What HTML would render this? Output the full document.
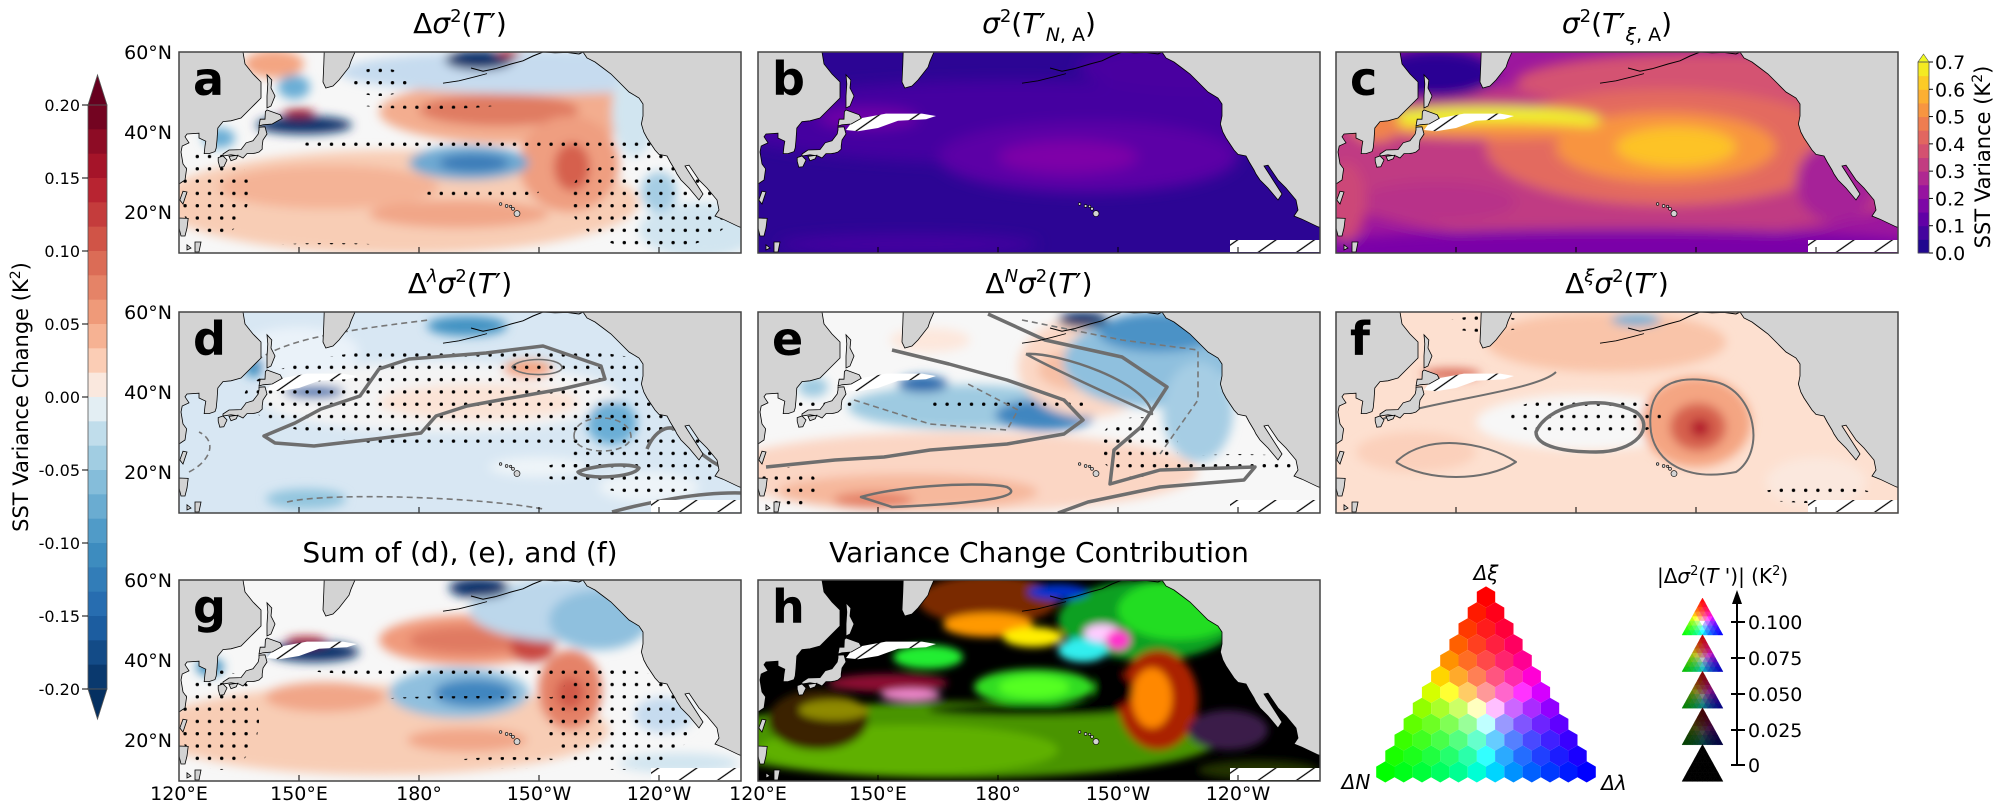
<!DOCTYPE html>
<html><head><meta charset="utf-8">
<style>
html,body{margin:0;padding:0;background:#fff;}
svg{display:block;font-family:"DejaVu Sans","Liberation Sans",sans-serif;}
</style></head>
<body>
<svg id="s" width="2000" height="806" viewBox="0 0 2000 806" xmlns="http://www.w3.org/2000/svg"></svg>
<script>
(function(){
var W=562,H=201;
var P={a:[179,52],b:[758,52],c:[1336,52],d:[179,312],e:[758,312],f:[1336,312],g:[179,580],h:[758,580]};
function pt(l,t){return ((l-120)*4).toFixed(1)+","+((60-t)*4).toFixed(1);}
function poly(a){return a.map(function(p){return pt(p[0],p[1]);}).join(" ");}
var asia=[[120,60],[136,60],[136.5,57],[138.5,54.5],[140.5,52.5],[140.5,48.5],[138,46],[135.5,43.5],[133,42.8],[131,42.6],[129.7,41],[129.5,38],[129.3,36],[129,35.1],[127.5,34.6],[126.3,34.6],[126.5,36.5],[126.7,37.7],[125,38.5],[125,39.7],[122,39.5],[121.5,38.8],[122.5,37.3],[120.8,36.5],[120.5,35],[121,32],[121.9,30.8],[121.5,28],[120,27]];
var isl=[
[[120.2,23],[121,25.2],[122,25],[121,22]],
[[120,18.5],[122.3,18.4],[122,16],[121.5,14],[120.5,14],[120,16]],
[[124,12.5],[125.5,12.5],[125,10],[124,10]],
[[122,11.8],[123,11],[122,10.5]],
[[142,54.3],[143.2,53],[143,51],[144,49],[143,46.5],[142,46],[142,49],[142.2,52]],
[[140,41.5],[141,41.8],[143.3,42],[145.8,43.4],[145.3,44.3],[142,45.5],[141.6,45.1],[141.5,43.2],[140.3,43.2]],
[[140,41.2],[141.5,41.3],[142,39.5],[141,38],[140.8,36.5],[140.8,35.7],[140,35],[139,34.7],[138.2,34.6],[137,34.6],[136,33.5],[135,34],[133,34.3],[131,34],[131,34.5],[132.5,35.5],[135.5,35.6],[136.8,37.3],[138.5,37.8],[139.8,39.5],[140,40.5]],
[[129.8,33.6],[131,34],[132,33],[131.2,31.3],[130.2,31.2],[129.8,32.7]],
[[132.5,33.9],[134.7,34.2],[134.3,33.3],[133,32.8]],
[[156.3,60],[164,60],[163,57.7],[162.5,56.2],[160,53],[158.5,51.5],[156.7,51],[156,52.5],[156.2,57]]
];
var na=[[221,60],[222,58.5],[224,57.5],[226,56],[228,54.5],[230.5,52],[232.5,50],[235,48.5],[236,47],[236,44],[235.6,42],[236.2,40],[237,38.5],[238,37],[239,35.5],[240,34.4],[242,34],[242.8,32.5],[244,30.5],[244.5,29.5],[245.5,28],[247.5,26],[250,23],[251,24.5],[246.5,31.5],[247.5,31.7],[250,28],[252,26],[254.5,23],[255,20.5],[254,19],[256,18.2],[260,16.3],[261,16],[261,60]];
var akpen=[[193,56],[196,55.2],[199,55.8],[203,57],[206,57.8],[208.5,59],[211,60],[214,59.8],[217,59.9],[220,59.5],[221,60]];
var hatch=[[142,40.5],[143.5,42.5],[146,43.5],[152,44.6],[161,44.6],[164.5,44],[162,43.2],[155,42.8],[150,41],[145,40.2]];

function E(x,y,rx,ry,c,o){return '<ellipse cx="'+x+'" cy="'+y+'" rx="'+rx+'" ry="'+ry+'" fill="'+c+'"'+(o?' opacity="'+o+'"':'')+'/>';}
function ellipses(arr){return arr.map(function(e){return E.apply(null,e);}).join("");}
function path(d,dash,w){return '<path d="'+d+'" fill="none" stroke="'+(dash?'#777':'#6e6e6e')+'" stroke-width="'+(w||(dash?1.6:3.5))+'"'+(dash?' stroke-dasharray="6,4"':'')+' stroke-linejoin="round"/>';}

var F={
a:{bg:'#f7f7f7',bl:5,e:[[220,150,240,52,'#f8cdb5'],[150,135,110,22,'#f4b396'],[280,162,90,14,'#f1a688'],[340,60,140,32,'#f3ad8f'],[320,58,80,16,'#e07c62'],[390,112,50,48,'#ef9e80'],[393,115,18,24,'#d6604d'],[290,111,60,17,'#6ea9d2'],[295,111,35,9,'#3a7cb8'],[360,20,200,22,'#c6dbef'],[300,8,34,10,'#08306b'],[330,2,12,4,'#b2182b'],[125,73,48,9,'#08306b'],[120,61,16,4,'#a50f15'],[95,12,30,14,'#f4a582'],[115,35,16,12,'#6baed6'],[40,86,16,10,'#6baed6'],[520,178,60,28,'#d1e5f0'],[480,140,18,20,'#a6cde4'],[455,60,22,45,'#d1e5f0']],
 dots:[[330,92,210,6],[475,148,85,50],[35,140,35,45],[250,52,70,5],[200,30,30,14],[300,140,60,5],[150,195,60,4]],c:[],h:false},
b:{bg:'#2c0594',bl:7,e:[[250,70,290,42,'#4403a0'],[330,105,150,36,'#5c01a6'],[310,105,70,16,'#7e03a8'],[110,66,50,10,'#7201a8'],[440,15,120,25,'#4903a0'],[150,192,130,10,'#4503a0']],h:true},
c:{bg:'#9c179e',bl:6,e:[[281,110,330,80,'#c03a83'],[380,30,200,30,'#d45372'],[330,95,180,58,'#e36b5e'],[330,95,110,35,'#f89441'],[340,95,60,20,'#fdc328'],[150,68,115,13,'#f0f921'],[160,78,110,8,'#f89441'],[40,72,25,18,'#f1844b'],[100,22,60,24,'#2c0594'],[281,197,320,20,'#7a02a8'],[100,150,80,20,'#b83289'],[500,130,40,40,'#a62098'],[10,150,20,40,'#cc4778']],h:true},
d:{bg:'#d8e7f3',bl:5,e:[[260,85,180,35,'#f4f4f4'],[300,90,100,18,'#fbe3d6'],[349,57,25,9,'#f4a582'],[288,14,40,10,'#4393c3'],[120,40,60,25,'#eaf2f9'],[433,111,25,22,'#6baed6'],[127,187,40,10,'#92c5de'],[135,80,30,6,'#2166ac'],[75,55,10,10,'#4393c3'],[470,175,50,15,'#eef4f8'],[360,155,50,10,'#eef4f8']],
 dots:[[300,85,235,52],[470,145,80,38],[400,160,40,10]],
 c:[['M85,124 L116,111 L142,97 L181,84 L200,57 L230,47 L307,41 L364,34 L422,54 L426,67 L383,77 L326,87 L288,94 L257,104 L242,121 L196,127 L135,134 L96,131 Z',0],
    ['M333,55 C340,45 380,45 383,55 C385,64 340,66 333,55 Z',0,1.6],
    ['M468,137 C475,120 488,112 498,118 C510,130 525,150 562,164',0],
    ['M399,160 C410,154 450,150 460,156 C455,166 405,168 399,160 Z',0],
    ['M433,200 C470,190 520,180 562,181',0],
    ['M70,54 C100,30 142,21 250,8',1],['M395,124 C395,100 450,100 452,124 C452,144 395,144 395,124',1],['M108,190 C150,180 300,185 364,197',1],['M10,160 C30,150 40,130 20,120',1]],h:true},
e:{bg:'#f7f7f7',bl:5,e:[[200,160,240,40,'#fbd6c4'],[150,180,130,18,'#f6b89c'],[115,188,40,8,'#e58267'],[205,95,115,22,'#9ecae1'],[287,103,50,16,'#3f86c0'],[165,72,25,8,'#2166ac'],[330,55,70,50,'#fbd8c6'],[320,58,40,20,'#f7bfa4'],[390,50,85,45,'#8fc0de'],[440,100,35,50,'#a6cde4'],[325,8,25,8,'#08306b'],[400,20,60,20,'#4b92c6'],[55,75,15,10,'#9ecae1'],[172,28,40,12,'#fde7dc']],
 dots:[[380,135,40,30],[250,92,80,5],[60,95,40,8],[30,175,30,20],[480,152,70,10]],
 c:[['M134,38 L191,52 L249,68 L306,88 L325,108 L306,122 L249,132 L172,138 L126,145 L77,148 L8,155',0],
    ['M230,2 L287,28 L364,45 L409,75 L383,115 L356,138 L352,172 L402,158 L497,155 L486,168 L402,175 L330,190 L300,201',0],
    ['M268,42 C300,40 390,70 394,102 C380,95 300,60 268,42',0,2.5],
    ['M103,185 C150,172 230,170 249,175 C262,182 250,190 134,195 Z',0,2.5],
    ['M96,88 L172,112 L249,118 L260,98 L210,72',1],['M264,8 L364,28 L440,38 L440,88 L402,142',1]],h:true},
f:{bg:'#fde0d0',bl:5,e:[[250,110,110,28,'#f7f7f7'],[270,30,120,30,'#f9c4a9'],[360,110,55,45,'#f4a582'],[362,115,28,24,'#d6604d'],[364,116,10,9,'#b2182b'],[115,62,30,5,'#d6604d'],[300,8,25,6,'#6baed6'],[80,140,60,20,'#fbd0bb'],[480,170,50,25,'#fbe8de']],
 dots:[[250,105,75,22],[480,183,60,8],[150,12,40,8]],
 c:[['M200,120 C210,95 260,80 300,100 C320,115 300,140 260,140 C230,140 200,135 200,120 Z',0],
    ['M315,120 C310,80 330,60 380,70 C420,80 430,140 400,160 C350,170 320,150 315,120 Z',0,2],
    ['M60,150 C90,120 150,130 180,150 C150,170 90,170 60,150',0,2],
    ['M40,110 C80,90 200,80 220,60',0,2]],h:true},
g:{bg:'#f7f7f7',bl:5,e:[[200,150,230,45,'#f8cdb5'],[146,117,60,15,'#f1a688'],[288,160,60,12,'#f1a688'],[290,60,90,25,'#f09a7c'],[290,60,60,14,'#e07a62'],[353,67,22,15,'#c94741'],[391,110,32,40,'#e58267'],[391,113,14,16,'#d25a4a'],[280,113,70,25,'#8fbfde'],[295,113,40,14,'#3f86c0'],[390,30,100,32,'#bcd7eb'],[300,8,30,10,'#08306b'],[420,40,50,30,'#8fc0de'],[135,72,45,10,'#08306b'],[127,61,20,4,'#a50f15'],[31,87,14,9,'#4393c3'],[485,135,30,18,'#c6dbef'],[500,183,60,10,'#d1e5f0']],
 dots:[[290,90,160,6],[440,140,75,50],[40,140,40,50],[300,120,100,4],[330,183,60,6]],c:[],h:true},
h:{bg:'#000',bl:4,e:[[200,160,260,38,'#4a9400'],[150,170,150,25,'#5fb000'],[60,140,50,30,'#3a2200'],[76,130,35,10,'#8f8a00'],[276,107,60,18,'#33dd22'],[276,107,35,11,'#55ff22'],[170,77,35,12,'#22ee33'],[130,103,60,9,'#8a1030'],[153,115,30,6,'#ee88cc'],[270,130,100,6,'#000'],[390,40,90,40,'#10a020'],[420,30,60,30,'#22dd22'],[230,20,70,25,'#7a2a00'],[230,45,45,12,'#ff9900'],[275,57,30,10,'#ffee00'],[325,70,25,12,'#33eeee'],[344,53,18,9,'#ffccff'],[360,60,12,10,'#ff33cc'],[300,12,30,8,'#0033cc'],[400,120,40,50,'#aa2200'],[394,118,20,30,'#ff8800'],[355,110,20,18,'#000'],[470,150,40,20,'#3a1a4a'],[500,190,60,10,'#233300']],h:true}
};

var s='';
s+='<defs>';
s+='<pattern id="dots" patternUnits="userSpaceOnUse" width="12.2" height="12.3"><circle cx="6.1" cy="6.1" r="1.7" fill="#000"/></pattern>';
s+='<pattern id="hl" patternUnits="userSpaceOnUse" width="22" height="22" patternTransform="rotate(-35)"><rect width="22" height="22" fill="#fff"/><line x1="0" y1="11" x2="22" y2="11" stroke="#000" stroke-width="1.2"/></pattern>';
s+='<clipPath id="pc"><rect x="0" y="0" width="'+W+'" height="'+H+'"/></clipPath>';
['a','b','c','d','e','f','g','h'].forEach(function(k){s+='<filter id="bl'+k+'" x="-20%" y="-20%" width="140%" height="140%"><feGaussianBlur stdDeviation="'+F[k].bl+'"/></filter>';});
s+='</defs>';

Object.keys(P).forEach(function(k){
  var o=P[k],f=F[k];
  s+='<g transform="translate('+o[0]+','+o[1]+')"><g clip-path="url(#pc)">';
  s+='<rect width="'+W+'" height="'+H+'" fill="'+f.bg+'"/>';
  s+='<g filter="url(#bl'+k+')">'+ellipses(f.e)+'</g>';
  if(f.dots){s+=f.dots.map(function(d){return '<ellipse cx="'+d[0]+'" cy="'+d[1]+'" rx="'+d[2]+'" ry="'+d[3]+'" fill="url(#dots)"/>';}).join('');}
  if(f.c){f.c.forEach(function(c){s+=path(c[0],c[1],c[2]);});}
  if(f.h){s+='<polygon points="'+poly(hatch)+'" fill="url(#hl)"/>';
    s+='<polygon points="'+poly([[238,13],[262,13],[262,10],[238,10]])+'" fill="url(#hl)"/>';}
  s+='<polygon points="'+poly(asia)+'" fill="#d3d3d3" stroke="#000" stroke-width="0.8"/>';
  isl.forEach(function(i){s+='<polygon points="'+poly(i)+'" fill="#d3d3d3" stroke="#000" stroke-width="0.8"/>';});
  s+='<polygon points="'+poly(na)+'" fill="#d3d3d3" stroke="#000" stroke-width="0.8"/>';
  s+='<polyline points="'+poly(akpen)+'" fill="none" stroke="#000" stroke-width="1"/>';
  [[204.5,19.6,3],[203.5,20.8,1.5],[202.9,21.4,1.2],[201.9,21.5,1.4],[200.4,22,1.3]].forEach(function(h){s+='<circle cx="'+((h[0]-120)*4)+'" cy="'+((60-h[1])*4)+'" r="'+h[2]+'" fill="#d3d3d3" stroke="#000" stroke-width="0.6"/>';});
  s+='<polyline points="'+poly([[186,52.2],[190,52.8],[194,53.8],[197,54.6]])+'" fill="none" stroke="#000" stroke-width="0.8"/>';
  s+='</g>';
  for(var t=1;t<5;t++){s+='<line x1="'+(t*120)+'" y1="'+H+'" x2="'+(t*120)+'" y2="'+(H-6)+'" stroke="#000" stroke-width="1"/>';}
  s+='<rect x="0" y="0" width="'+W+'" height="'+H+'" fill="none" stroke="#444" stroke-width="1.5"/>';
  s+='<text x="14" y="43" font-size="46" font-weight="bold" fill="#000">'+k+'</text>';
  s+='</g>';
});

[52,312,580].forEach(function(y0){
  [['60°N',0],['40°N',80],['20°N',160]].forEach(function(l){s+='<text x="172" y="'+(y0+l[1]+7)+'" font-size="19" text-anchor="end">'+l[0]+'</text>';});
});
var lons=['120°E','150°E','180°','150°W','120°W'];
[179,758].forEach(function(x0){lons.forEach(function(l,i){s+='<text x="'+(x0+i*120)+'" y="800" font-size="19" text-anchor="middle">'+l+'</text>';});});

function ti(x,y,inner){return '<text x="'+x+'" y="'+y+'" font-size="28" text-anchor="middle">'+inner+'</text>';}
var sig='<tspan font-style="italic">σ</tspan><tspan font-size="18" dy="-11">2</tspan><tspan dy="11">(</tspan>';
var T='<tspan font-style="italic">T</tspan>′';
s+=ti(460,33,'Δ'+sig+T+')');
s+=ti(1039,33,sig+T+'<tspan font-size="19" dy="8" font-style="italic">N</tspan><tspan font-size="19">, A</tspan><tspan dy="-8">)</tspan>');
s+=ti(1617,33,sig+T+'<tspan font-size="19" dy="8" font-style="italic">ξ</tspan><tspan font-size="19">, A</tspan><tspan dy="-8">)</tspan>');
function sup(c){return 'Δ<tspan font-size="18" dy="-11" font-style="italic">'+c+'</tspan><tspan dy="11" font-style="italic">σ</tspan><tspan font-size="18" dy="-11">2</tspan><tspan dy="11">(</tspan>'+T+')';}
s+=ti(460,293,sup('λ'));
s+=ti(1039,293,sup('N'));
s+=ti(1617,293,sup('ξ'));
s+=ti(460,562,'Sum of (d), (e), and (f)');
s+=ti(1039,562,'Variance Change Contribution');

var rdbu=[[-1,[5,48,97]],[-0.75,[33,102,172]],[-0.5,[67,147,195]],[-0.25,[146,197,222]],[-0.08,[209,229,240]],[0,[247,247,247]],[0.08,[253,219,199]],[0.25,[244,165,130]],[0.5,[214,96,77]],[0.75,[178,24,43]],[1,[103,0,31]]];
function interp(tab,v){for(var i=0;i<tab.length-1;i++){if(v<=tab[i+1][0]){var a=tab[i],b=tab[i+1],t=(v-a[0])/(b[0]-a[0]);return 'rgb('+[0,1,2].map(function(j){return Math.round(a[1][j]+t*(b[1][j]-a[1][j]));}).join(',')+')';}}var l=tab[tab.length-1][1];return 'rgb('+l.join(',')+')';}
var y0=105,y1=689,n=24,bh=(y1-y0)/n;
for(var i=0;i<n;i++){var v=0.2-(i+0.5)*0.4/n;s+='<rect x="88" y="'+(y0+i*bh).toFixed(2)+'" width="19" height="'+(bh+0.6).toFixed(2)+'" fill="'+interp(rdbu,v/0.2)+'"/>';}
s+='<polygon points="88,105 107,105 97.5,75" fill="#67001f" stroke="#555" stroke-width="0.8"/>';
s+='<polygon points="88,689 107,689 97.5,719" fill="#053061" stroke="#555" stroke-width="0.8"/>';
s+='<rect x="88" y="105" width="19" height="584" fill="none" stroke="#555" stroke-width="0.8"/>';
['0.20','0.15','0.10','0.05','0.00','-0.05','-0.10','-0.15','-0.20'].forEach(function(l,i){var y=105+i*73;s+='<line x1="82" y1="'+y+'" x2="88" y2="'+y+'" stroke="#000"/><text x="80" y="'+(y+6)+'" font-size="16" text-anchor="end">'+l+'</text>';});
s+='<text transform="translate(28,397) rotate(-90)" font-size="21" text-anchor="middle">SST Variance Change (K<tspan font-size="14" dy="-8">2</tspan><tspan dy="8">)</tspan></text>';

var pl=[[0,[13,8,135]],[0.1,[65,4,157]],[0.2,[106,0,168]],[0.3,[143,13,164]],[0.4,[177,42,144]],[0.5,[204,71,120]],[0.6,[225,100,98]],[0.7,[242,132,75]],[0.8,[252,166,54]],[0.9,[252,206,37]],[1,[240,249,33]]];
for(var i=0;i<14;i++){var v=(i+0.5)/14;var yy=253-(i+1)*(191/14);s+='<rect x="1918" y="'+yy.toFixed(2)+'" width="11" height="'+(191/14+0.5).toFixed(2)+'" fill="'+interp(pl,v)+'"/>';}
s+='<polygon points="1918,62 1929,62 1923.5,54" fill="#f0f921" stroke="#555" stroke-width="0.6"/>';
s+='<rect x="1918" y="62" width="11" height="191" fill="none" stroke="#555" stroke-width="0.8"/>';
for(var i=0;i<8;i++){var y=253-i*191/7;s+='<line x1="1929" y1="'+y+'" x2="1933" y2="'+y+'" stroke="#000"/><text x="1935" y="'+(y+7)+'" font-size="19">'+(i/10).toFixed(1)+'</text>';}
s+='<text transform="translate(1990,157) rotate(-90)" font-size="21" text-anchor="middle">SST Variance (K<tspan font-size="14" dy="-8">2</tspan><tspan dy="8">)</tspan></text>';

var R=10.6,cx0=1486,cy0=597,dx=18.3,dy=15.9;
function col(a,b,c,k){var m=Math.max(a,b,c);return 'rgb('+Math.round(255*k*a/m)+','+Math.round(255*k*b/m)+','+Math.round(255*k*c/m)+')';}
for(var i=0;i<12;i++){for(var j=0;j<=i;j++){
  var x=cx0+(j-i/2)*dx,y=cy0+i*dy;var a=1-i/11,b=(i-j)/11,c=j/11;
  var pts=[];for(var q=0;q<6;q++){var an=Math.PI/180*(60*q-90);pts.push((x+R*Math.cos(an)).toFixed(1)+','+(y+R*Math.sin(an)).toFixed(1));}
  s+='<polygon points="'+pts.join(' ')+'" fill="'+col(a,b,c,1)+'"/>';
}}
s+='<text x="1486" y="580" font-size="20" font-style="italic" text-anchor="middle">Δξ</text>';
s+='<text x="1356" y="789" font-size="20" font-style="italic" text-anchor="middle">ΔN</text>';
s+='<text x="1614" y="790" font-size="20" font-style="italic" text-anchor="middle">Δλ</text>';

var ks=[1,0.75,0.5,0.25,0];
ks.forEach(function(k,m){
  var ax=1702.5,ay=598+m*36.6,w=41,h=37,N=8;
  for(var i=0;i<N;i++){for(var j=0;j<=i;j++){
    var x1=ax+(j-i/2)*w/N,y1=ay+i*h/N;
    var pA=[x1,y1],pB=[x1-w/N/2,y1+h/N],pC=[x1+w/N/2,y1+h/N];
    var a=1-(i+0.67)/N,b=(i-j+0.33)/N,c=(j+0.33)/N;
    s+='<polygon points="'+[pA,pB,pC].map(function(p){return p[0].toFixed(1)+','+p[1].toFixed(1);}).join(' ')+'" fill="'+col(a,b,c,k)+'" stroke="'+col(a,b,c,k)+'" stroke-width="0.4"/>';
    if(j<i){var pD=[x1+w/N,y1];var a2=1-(i+0.33)/N,b2=(i-j-0.33)/N,c2=(j+0.67)/N;
      s+='<polygon points="'+[pA,pC,pD].map(function(p){return p[0].toFixed(1)+','+p[1].toFixed(1);}).join(' ')+'" fill="'+col(a2,b2,c2,k)+'" stroke="'+col(a2,b2,c2,k)+'" stroke-width="0.4"/>';}
  }}
});
s+='<line x1="1737" y1="765" x2="1737" y2="600" stroke="#000" stroke-width="2"/><polygon points="1732,604 1742,604 1737,590" fill="#000"/>';
[['0.100',622],['0.075',658],['0.050',694],['0.025',730],['0',765]].forEach(function(t){s+='<line x1="1731" y1="'+t[1]+'" x2="1745" y2="'+t[1]+'" stroke="#000" stroke-width="2"/><text x="1748" y="'+(t[1]+7)+'" font-size="19">'+t[0]+'</text>';});
s+='<text x="1657" y="583" font-size="20">|Δ<tspan font-style="italic">σ</tspan><tspan font-size="13" dy="-8">2</tspan><tspan dy="8">(</tspan><tspan font-style="italic">T</tspan> \')| (K<tspan font-size="13" dy="-8">2</tspan><tspan dy="8">)</tspan></text>';

document.getElementById('s').innerHTML=s;
})();
</script>
</body></html>
